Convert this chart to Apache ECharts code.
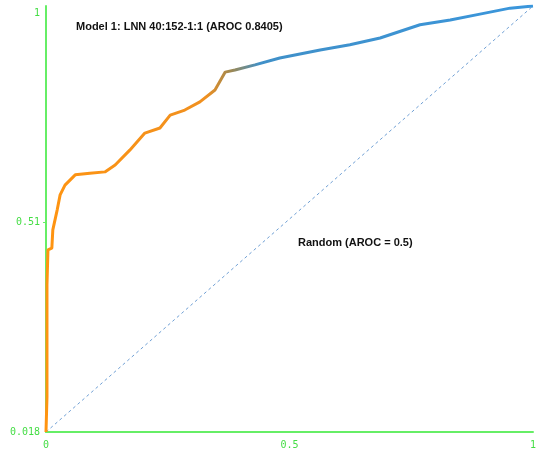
<!DOCTYPE html><html><head><meta charset="utf-8">
<script src="https://cdn.jsdelivr.net/npm/echarts@6/dist/echarts.min.js"></script>
<style>html,body{margin:0;padding:0;background:#fff}#c{width:550px;height:457px}</style></head><body><div id="c"></div>
<script>
const fpr=[0,0.002,0.002,0.004,0.012,0.014,0.023,0.029,0.039,0.060,0.090,0.121,0.142,0.172,0.203,0.234,0.255,0.285,0.316,0.347,0.368,0.388,0.429,0.480,0.563,0.624,0.686,0.768,0.830,0.891,0.953,1];
const tpr=[0.018,0.10,0.363,0.445,0.449,0.492,0.539,0.574,0.597,0.621,0.625,0.628,0.644,0.679,0.719,0.731,0.761,0.773,0.792,0.820,0.862,0.867,0.879,0.895,0.914,0.926,0.942,0.973,0.984,0.998,1.012,1.017];
const randomX=[0,1], randomY=[0.018,1.017];
const yTicks=[0.018,0.51,1], xTicks=[0,0.5,1];
const G='#66ee66', T='#44dd44';
const ch=echarts.init(document.getElementById('c'));
ch.setOption({
 animation:false,
 grid:{left:46,right:17,top:6,bottom:25},
 xAxis:{type:'value',min:0,max:1,splitLine:{show:false},axisLine:{lineStyle:{color:G,width:2}},axisTick:{show:false},
  axisLabel:{customValues:xTicks,color:T,fontFamily:'DejaVu Sans Mono',fontSize:10,margin:8}},
 yAxis:{type:'value',min:0.018,max:1.017,splitLine:{show:false},axisLine:{show:true,lineStyle:{color:G,width:2}},
  axisTick:{show:true,customValues:[0.51],length:3,lineStyle:{color:G}},
  axisLabel:{customValues:yTicks,color:T,fontFamily:'DejaVu Sans Mono',fontSize:10,margin:6}},
 series:[
  {type:'line',data:randomX.map((x,i)=>[x,randomY[i]]),symbol:'none',lineStyle:{color:'#6f9fd4',width:1,type:[3,3]}},
  {type:'line',data:fpr.map((x,i)=>[x,tpr[i]]),symbol:'none',
   lineStyle:{width:3,color:new echarts.graphic.LinearGradient(0,0,1,0,[{offset:0,color:'#ff9410'},{offset:0.33,color:'#f09020'},{offset:0.38,color:'#a08850'},{offset:0.44,color:'#4090c8'},{offset:1,color:'#3a96dc'}])}}
 ],
 graphic:[
  {type:'text',left:76,top:21,style:{text:'Model 1: LNN 40:152-1:1 (AROC 0.8405)',font:'bold 11px "Liberation Sans", sans-serif',fill:'#111'}},
  {type:'text',left:298,top:237,style:{text:'Random (AROC = 0.5)',font:'bold 11px "Liberation Sans", sans-serif',fill:'#111'}}
 ]
});
</script></body></html>
